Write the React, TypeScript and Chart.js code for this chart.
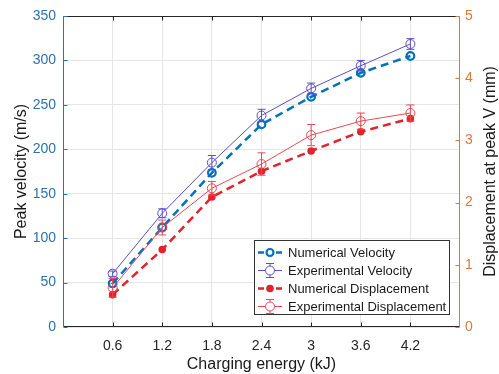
import React, { useEffect, useRef } from "react";
import { Chart, registerables } from "chart.js";

Chart.register(...registerables);

// ---------- data ----------
const energies = [0.6, 1.2, 1.8, 2.4, 3.0, 3.6, 4.2];
const xTickValues = [0.6, 1.2, 1.8, 2.4, 3, 3.6, 4.2];
const numVelocity = [49, 112, 173.5, 228, 259, 286, 305];
const expVelocity = [60, 128, 185, 238, 268.5, 294, 318.5];
const expVelocityErr = [3, 5, 8, 7, 6, 6, 6];
const numDisplacement = [0.52, 1.245, 2.09, 2.505, 2.83, 3.14, 3.35];
const expDisplacement = [0.63, 1.6, 2.23, 2.62, 3.085, 3.31, 3.44];
const expDisplacementErr = [0.15, 0.12, 0.11, 0.18, 0.17, 0.13, 0.13];
const seriesLabels = [
  "Numerical Velocity",
  "Experimental Velocity",
  "Numerical Displacement",
  "Experimental Displacement",
];
const xTitle = "Charging energy (kJ)";
const yLeftTitle = "Peak velocity (m/s)";
const yRightTitle = "Displacement at peak V (mm)";

// ---------- styles ----------
const FONT = "'Liberation Sans', Arial, Helvetica, sans-serif";
const C_NUMV = "#0072BD";
const C_EXPV = "rgb(92,78,200)";
const C_NUMD = "#E4222B";
const C_EXPD = "rgb(234,72,82)";
const C_LEFT = "#2a72b6";
const C_RIGHT = "#d97a3c";
const C_DARK = "#262626";

const pts = (ys: number[]) => energies.map((x, i) => ({ x, y: ys[i] }));

const errorBarPlugin = {
  id: "errorBars",
  afterDatasetsDraw(chart: any) {
    const ctx = chart.ctx;
    chart.data.datasets.forEach((ds: any, i: number) => {
      if (!ds.errors) return;
      const meta = chart.getDatasetMeta(i);
      const scale = chart.scales[ds.yAxisID];
      ctx.save();
      ctx.strokeStyle = ds.borderColor;
      ctx.lineWidth = 1;
      meta.data.forEach((el: any, j: number) => {
        const v = ds.data[j].y;
        const e = ds.errors[j];
        const yTop = scale.getPixelForValue(v + e);
        const yBot = scale.getPixelForValue(v - e);
        const x = el.x;
        ctx.beginPath();
        ctx.moveTo(x, yTop);
        ctx.lineTo(x, yBot);
        ctx.moveTo(x - 4, yTop);
        ctx.lineTo(x + 4, yTop);
        ctx.moveTo(x - 4, yBot);
        ctx.lineTo(x + 4, yBot);
        ctx.stroke();
      });
      ctx.restore();
    });
  },
};

const framePlugin = {
  id: "frame",
  afterDraw(chart: any) {
    const ctx = chart.ctx;
    const { left, right, top, bottom } = chart.chartArea;
    const L = Math.round(left) + 0.5;
    const R = Math.round(right) - 0.5;
    const T = Math.round(top) + 0.5;
    const B = Math.round(bottom) - 0.5;
    ctx.save();
    ctx.lineWidth = 1;
    // top & bottom
    ctx.strokeStyle = C_DARK;
    ctx.beginPath();
    ctx.moveTo(L, T);
    ctx.lineTo(R, T);
    ctx.moveTo(L, B);
    ctx.lineTo(R, B);
    ctx.stroke();
    // x tick marks (top & bottom, inward)
    const xs = chart.scales.x;
    ctx.beginPath();
    xTickValues.forEach((v) => {
      const px = Math.round(xs.getPixelForValue(v)) + 0.5;
      ctx.moveTo(px, B);
      ctx.lineTo(px, B - 4);
      ctx.moveTo(px, T);
      ctx.lineTo(px, T + 4);
    });
    ctx.stroke();
    // left axis
    ctx.strokeStyle = C_LEFT;
    ctx.beginPath();
    ctx.moveTo(L, T);
    ctx.lineTo(L, B);
    chart.scales.y.ticks.forEach((t: any) => {
      const py = Math.round(chart.scales.y.getPixelForValue(t.value)) + 0.5;
      ctx.moveTo(L, py);
      ctx.lineTo(L + 4, py);
    });
    ctx.stroke();
    // right axis
    ctx.strokeStyle = C_RIGHT;
    ctx.beginPath();
    ctx.moveTo(R, T);
    ctx.lineTo(R, B);
    chart.scales.y1.ticks.forEach((t: any) => {
      const py = Math.round(chart.scales.y1.getPixelForValue(t.value)) + 0.5;
      ctx.moveTo(R, py);
      ctx.lineTo(R - 4, py);
    });
    ctx.stroke();
    // right title (reads bottom-to-top)
    ctx.fillStyle = "#1a1a1a";
    ctx.font = `16px ${FONT}`;
    ctx.textAlign = "center";
    ctx.textBaseline = "middle";
    ctx.translate(491, (top + bottom) / 2);
    ctx.rotate(-Math.PI / 2);
    ctx.fillText(yRightTitle, 0, 0);
    ctx.restore();
  },
};

const legendPlugin = {
  id: "customLegend",
  afterDraw(chart: any) {
    const ctx = chart.ctx;
    const bx = 254.5, by = 240.5, bw = 195, bh = 74;
    ctx.save();
    ctx.fillStyle = "#ffffff";
    ctx.fillRect(bx, by, bw, bh);
    ctx.strokeStyle = "#333333";
    ctx.lineWidth = 1;
    ctx.strokeRect(bx, by, bw, bh);
    const styles = [
      { color: C_NUMV, width: 2.5, dash: [6, 3], marker: "open", r: 3.5, mw: 2.2, err: false },
      { color: C_EXPV, width: 1, dash: [], marker: "open", r: 4.5, mw: 1, err: true },
      { color: C_NUMD, width: 2.5, dash: [6, 3], marker: "filled", r: 3.8, mw: 1, err: false },
      { color: C_EXPD, width: 1, dash: [], marker: "open", r: 4.5, mw: 1, err: true },
    ];
    styles.forEach((s, i) => {
      const y = Math.round(by + 11.5 + i * 17.9) + 0.5;
      const x0 = 258, x1 = 282, xm = 270;
      ctx.strokeStyle = s.color;
      ctx.lineWidth = s.width;
      ctx.setLineDash(s.dash);
      ctx.beginPath();
      ctx.moveTo(x0, y);
      ctx.lineTo(x1, y);
      ctx.stroke();
      ctx.setLineDash([]);
      if (s.err) {
        ctx.lineWidth = 1;
        ctx.beginPath();
        ctx.moveTo(xm, y - 7);
        ctx.lineTo(xm, y + 7);
        ctx.moveTo(xm - 4, y - 7);
        ctx.lineTo(xm + 4, y - 7);
        ctx.moveTo(xm - 4, y + 7);
        ctx.lineTo(xm + 4, y + 7);
        ctx.stroke();
      }
      ctx.beginPath();
      ctx.arc(xm, y, s.r, 0, Math.PI * 2);
      if (s.marker === "filled") {
        ctx.fillStyle = s.color;
        ctx.fill();
      } else {
        ctx.fillStyle = "#ffffff";
        ctx.fill();
        ctx.lineWidth = s.mw;
        ctx.stroke();
      }
      ctx.fillStyle = "#1a1a1a";
      ctx.font = `13px ${FONT}`;
      ctx.textAlign = "left";
      ctx.textBaseline = "middle";
      ctx.fillText(seriesLabels[i], 288, y + 0.5);
    });
    ctx.restore();
  },
};

export default function App() {
  const canvasRef = useRef<HTMLCanvasElement | null>(null);

  useEffect(() => {
    const canvas = canvasRef.current;
    if (!canvas) return;
    const chart = new Chart(canvas, {
      type: "line",
      data: {
        datasets: [
          {
            label: seriesLabels[0],
            data: pts(numVelocity),
            yAxisID: "y",
            borderColor: C_NUMV,
            borderWidth: 2.5,
            borderDash: [8, 5],
            pointRadius: 3.8,
            pointBorderWidth: 2.2,
            pointBackgroundColor: "rgba(255,255,255,0)",
            pointBorderColor: C_NUMV,
            order: 4,
          },
          {
            label: seriesLabels[1],
            data: pts(expVelocity),
            errors: expVelocityErr,
            yAxisID: "y",
            borderColor: C_EXPV,
            borderWidth: 1,
            pointRadius: 4.5,
            pointBorderWidth: 1,
            pointBackgroundColor: "rgba(255,255,255,0)",
            pointBorderColor: C_EXPV,
            order: 3,
          } as any,
          {
            label: seriesLabels[2],
            data: pts(numDisplacement),
            yAxisID: "y1",
            borderColor: C_NUMD,
            borderWidth: 2.5,
            borderDash: [8, 5],
            pointRadius: 3.8,
            pointBorderWidth: 0,
            pointBackgroundColor: C_NUMD,
            pointBorderColor: C_NUMD,
            order: 2,
          },
          {
            label: seriesLabels[3],
            data: pts(expDisplacement),
            errors: expDisplacementErr,
            yAxisID: "y1",
            borderColor: C_EXPD,
            borderWidth: 1,
            pointRadius: 4.5,
            pointBorderWidth: 1,
            pointBackgroundColor: "rgba(255,255,255,0)",
            pointBorderColor: C_EXPD,
            order: 1,
          } as any,
        ],
      },
      options: {
        animation: false,
        responsive: false,
        devicePixelRatio: 1,
        layout: { padding: { top: 16, left: 0, right: 0, bottom: 0 } },
        plugins: {
          legend: { display: false },
          tooltip: { enabled: false },
        },
        elements: { line: { tension: 0 } },
        scales: {
          x: {
            type: "linear",
            min: 0,
            max: 4.8,
            afterBuildTicks: (scale: any) => {
              scale.ticks = xTickValues.map((v) => ({ value: v }));
            },
            afterFit: (scale: any) => {
              scale.height = 47;
            },
            ticks: {
              color: C_DARK,
              font: { size: 14, family: FONT },
              padding: 11,
              callback: (v: any) => String(Number(Number(v).toFixed(1))),
            },
            grid: { color: "#e6e6e6", drawTicks: false },
            border: { display: false },
            title: {
              display: true,
              text: xTitle,
              color: "#1a1a1a",
              font: { size: 16, family: FONT },
              padding: { top: 0, bottom: 0 },
            },
          },
          y: {
            type: "linear",
            position: "left",
            min: 0,
            max: 350,
            afterFit: (scale: any) => {
              scale.width = 63;
            },
            ticks: {
              stepSize: 50,
              color: C_LEFT,
              font: { size: 14, family: FONT },
              padding: 7,
            },
            grid: { color: "#e6e6e6", drawTicks: false },
            border: { display: false },
            title: {
              display: true,
              text: yLeftTitle,
              color: "#1a1a1a",
              font: { size: 16, family: FONT },
              padding: { top: 12, bottom: 0 },
            },
          },
          y1: {
            type: "linear",
            position: "right",
            min: 0,
            max: 5,
            afterFit: (scale: any) => {
              scale.width = 39;
            },
            ticks: {
              stepSize: 1,
              color: C_RIGHT,
              font: { size: 14, family: FONT },
              padding: 5,
            },
            grid: { display: false, drawTicks: false },
            border: { display: false },
          },
        },
      },
      plugins: [errorBarPlugin, framePlugin, legendPlugin],
    } as any);
    return () => chart.destroy();
  }, []);

  return (
    <div
      style={{
        position: "fixed",
        left: 0,
        top: 0,
        width: 499,
        height: 374,
        background: "#ffffff",
      }}
    >
      <canvas ref={canvasRef} width={499} height={374} style={{ width: 499, height: 374, display: "block" }} />
    </div>
  );
}
